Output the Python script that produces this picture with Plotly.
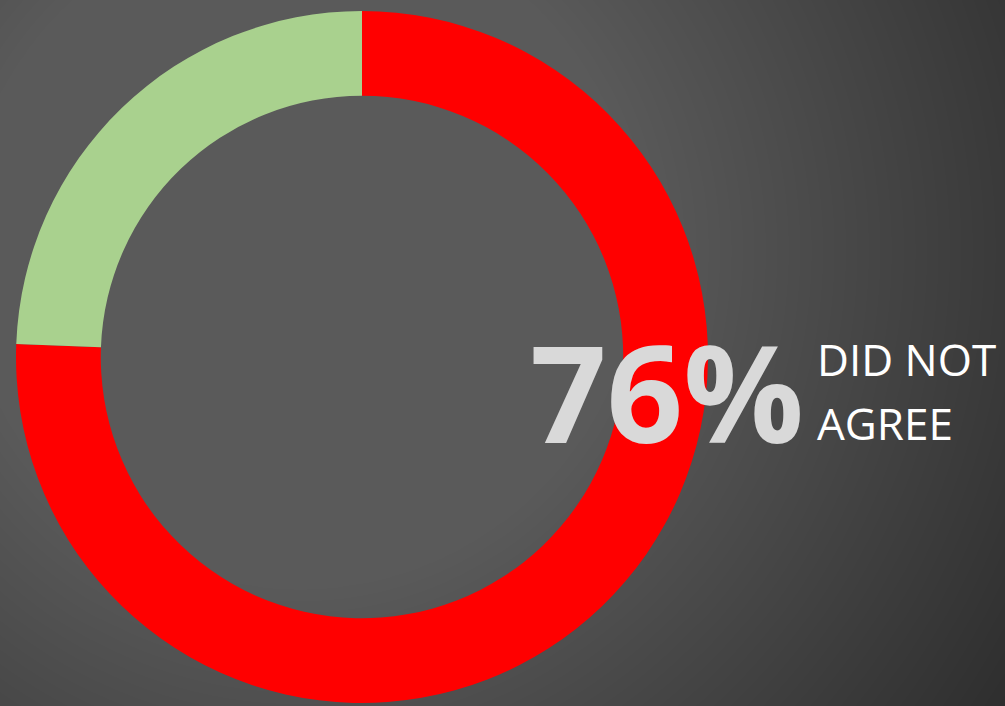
import numpy as np
import plotly.graph_objects as go

W, H = 1005, 706

labels = ["Did not agree", "Agreed"]
values = [75.6, 24.4]
colors = ["#ff0000", "#a9d18e"]
big_text = "76%"
side_lines = ["DID NOT", "AGREE"]

# background radial gradient (decoration)
gx = np.linspace(0, W, 101)
gy = np.linspace(0, H, 72)
XX, YY = np.meshgrid(gx, gy)
d = np.sqrt((XX - 300) ** 2 + (YY - 250) ** 2)
shade = 90 - 0.087 * np.clip(d - 333, 0, None)

fig = go.Figure()
fig.add_trace(go.Heatmap(
    x=gx, y=gy, z=shade, zmin=40, zmax=95, zsmooth="best",
    colorscale=[[0, "rgb(40,40,40)"], [1, "rgb(95,95,95)"]],
    showscale=False, hoverinfo="skip", xaxis="x", yaxis="y"))

fig.add_trace(go.Pie(
    labels=labels, values=values, hole=0.755, sort=False,
    direction="clockwise", rotation=0,
    marker=dict(colors=colors, line=dict(width=0)),
    textinfo="none", showlegend=False,
    domain=dict(x=[16 / W, 708 / W], y=[3 / H, 695 / H])))

fig.update_layout(
    width=W, height=H, margin=dict(l=0, r=0, t=0, b=0),
    paper_bgcolor="#4a4a4a", plot_bgcolor="#4a4a4a",
    xaxis=dict(range=[0, W], visible=False, domain=[0, 1], fixedrange=True),
    yaxis=dict(range=[H, 0], visible=False, domain=[0, 1], fixedrange=True),
    showlegend=False,
)

fig.add_annotation(
    text=big_text, xref="paper", yref="paper",
    x=528 / W, y=1 - 391 / H, xanchor="left", yanchor="middle",
    showarrow=False,
    font=dict(family="Open Sans", size=134, color="#d9d9d9", weight="bold"))

for i, line in enumerate(side_lines):
    fig.add_annotation(
        text=line, xref="paper", yref="paper",
        x=815 / W, y=1 - (359 + 64 * i) / H, xanchor="left", yanchor="middle",
        showarrow=False,
        font=dict(family="Open Sans", size=44, color="#ffffff"))

fig.write_html("out.html")
